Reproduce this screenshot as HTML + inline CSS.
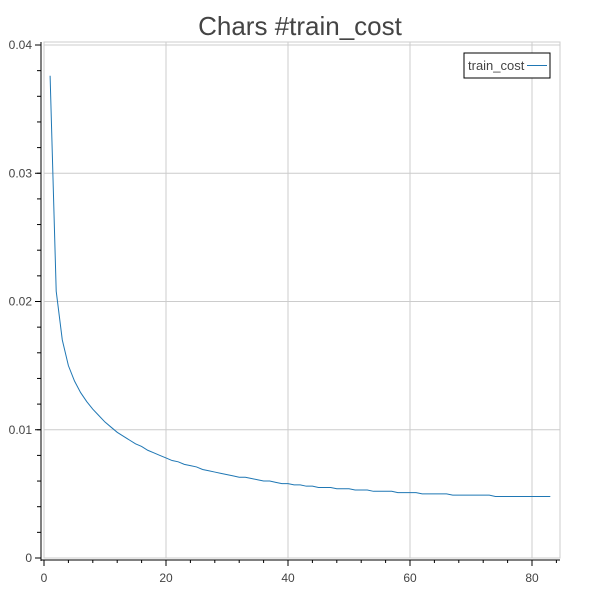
<!DOCTYPE html>
<html><head><meta charset="utf-8"><style>
body{margin:0;background:#fff;font-family:"Liberation Sans",sans-serif}
</style></head><body>
<svg id="c" width="600" height="600" xmlns="http://www.w3.org/2000/svg"></svg>
<script>
const xTicks=[0,20,40,60,80];
const yTicks=[0,0.01,0.02,0.03,0.04];
const yTickLabels=["0","0.01","0.02","0.03","0.04"];
const trainCost=[.0376,.0208,.0170,.0150,.0138,.0129,.0122,.0116,.0111,.0106,.0102,.0098,.0095,.0092,.0089,.0087,.0084,.0082,.0080,.0078,.0076,.0075,.0073,.0072,.0071,.0069,.0068,.0067,.0066,.0065,.0064,.0063,.0063,.0062,.0061,.0060,.0060,.0059,.0058,.0058,.0057,.0057,.0056,.0056,.0055,.0055,.0055,.0054,.0054,.0054,.0053,.0053,.0053,.0052,.0052,.0052,.0052,.0051,.0051,.0051,.0051,.0050,.0050,.0050,.0050,.0050,.0049,.0049,.0049,.0049,.0049,.0049,.0049,.0048,.0048,.0048,.0048,.0048,.0048,.0048,.0048,.0048,.0048];
const epochs=trainCost.map((v,i)=>i+1);
const svg=document.getElementById('c');const NS='http://www.w3.org/2000/svg';
const L=44,R=560,T=42,B=558;
const xs=v=>44+v*6.1, ys=v=>558-v*12825;
function el(t,a,p){const e=document.createElementNS(NS,t);for(const k in a)e.setAttribute(k,a[k]);(p||svg).appendChild(e);return e;}
const title=el('text',{x:300,y:35,'text-anchor':'middle','font-size':26,fill:'#444'});title.textContent='Chars #train_cost';


el('rect',{x:L,y:T,width:R-L,height:B-T,fill:'none',stroke:'#ccc'});
xTicks.forEach(v=>{const g=el('line',{x1:xs(v),x2:xs(v),y1:T,y2:B,stroke:'#ccc'});


el('line',{x1:xs(v),x2:xs(v),y1:560,y2:566,stroke:'#000'});
const t=el('text',{x:xs(v),y:582,'text-anchor':'middle','font-size':12,fill:'#444'});t.textContent=v;

});
for(let v=0;v<=84;v+=4){if(v%20)el('line',{x1:xs(v),x2:xs(v),y1:560,y2:563,stroke:'#000'});}
yTicks.forEach((v,i)=>{const g=el('line',{x1:L,x2:R,y1:ys(v),y2:ys(v),stroke:'#ccc'});


el('line',{x1:35,x2:41,y1:ys(v),y2:ys(v),stroke:'#000'});
const t=el('text',{x:32,y:ys(v)+4,'text-anchor':'end','font-size':12,fill:'#444'});t.textContent=yTickLabels[i];

});
for(let v=0;v<=0.0405;v+=0.002){el('line',{x1:37,x2:41,y1:ys(v),y2:ys(v),stroke:'#000'});}
el('line',{x1:41,x2:41,y1:T,y2:561,stroke:'#000'});
el('line',{x1:41,x2:R,y1:560,y2:560,stroke:'#000'});
const line=el('polyline',{points:epochs.map((x,i)=>xs(x)+','+ys(trainCost[i])).join(' '),fill:'none',stroke:'#1f77b4','stroke-width':1});


const lg=el('g',{});


el('rect',{x:464,y:53,width:86,height:25,fill:'#fff',stroke:'#000'},lg);
const lt=el('text',{x:468,y:70,'font-size':13,fill:'#444'},lg);lt.textContent='train_cost';
el('line',{x1:527,x2:547,y1:65.5,y2:65.5,stroke:'#1f77b4'},lg);
</script>
</body></html>
